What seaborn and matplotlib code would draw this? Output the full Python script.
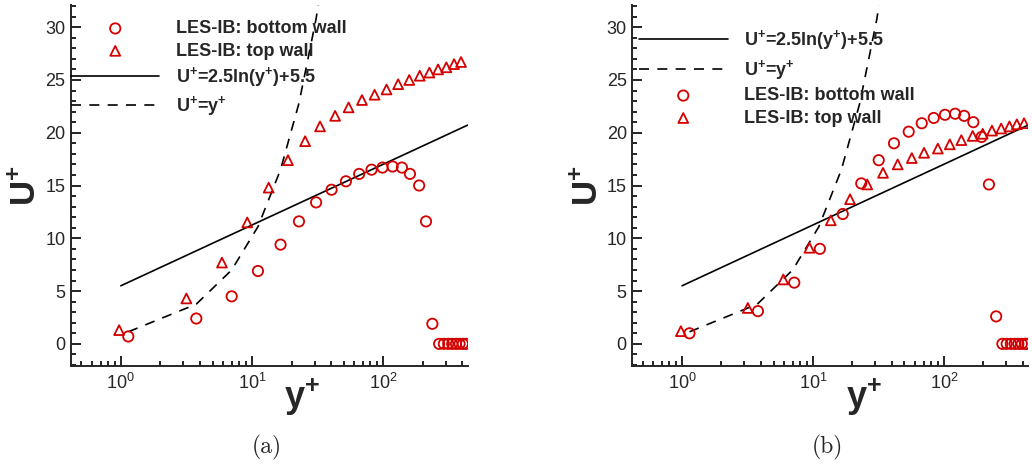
import matplotlib
matplotlib.use('Agg')
import matplotlib.pyplot as plt
import seaborn as sns
from matplotlib.ticker import MultipleLocator

# panel (a) data
yp_a_bot = [1.14, 3.76, 7.0, 11.1, 16.5, 22.8, 30.8, 40.4, 52, 65.6, 81.5, 98.8, 118, 139, 160, 188, 212, 237,
            267, 290, 313, 336, 359, 382, 405, 428]
up_a_bot = [0.7, 2.4, 4.5, 6.9, 9.4, 11.6, 13.4, 14.6, 15.4, 16.1, 16.5, 16.7, 16.8, 16.7, 16.1, 15.0, 11.6, 1.9,
            0, 0, 0, 0, 0, 0, 0, 0]
yp_a_top = [0.97, 3.16, 5.9, 9.2, 13.4, 18.8, 25.4, 33, 43, 54.5, 68.9, 86, 106, 130, 158, 190, 225, 262, 303, 347, 392]
up_a_top = [1.3, 4.3, 7.7, 11.5, 14.8, 17.4, 19.2, 20.6, 21.6, 22.4, 23.1, 23.6, 24.1, 24.6, 25.0, 25.4, 25.7,
            26.0, 26.2, 26.5, 26.7]

# panel (b) data
yp_b_bot = [1.14, 3.8, 7.2, 11.3, 16.9, 23.4, 31.8, 41.6, 53.9, 67.8, 83.7, 102, 122, 143, 168, 194, 221, 251,
            280, 302, 325, 348, 371, 394, 417, 435]
up_b_bot = [1.0, 3.1, 5.8, 9.0, 12.3, 15.2, 17.4, 19.0, 20.1, 20.9, 21.4, 21.7, 21.8, 21.6, 21.0, 19.6, 15.1, 2.6,
            0, 0, 0, 0, 0, 0, 0, 0]
yp_b_top = [0.98, 3.18, 5.94, 9.4, 13.7, 19.2, 26, 34.3, 44.4, 56.9, 70.6, 90, 111, 136, 166, 198, 233, 274, 317, 361, 410]
up_b_top = [1.2, 3.4, 6.1, 9.1, 11.7, 13.7, 15.1, 16.2, 17.0, 17.6, 18.1, 18.5, 18.9, 19.3, 19.7, 19.9, 20.2,
            20.4, 20.6, 20.8, 20.9]

# reference laws
yp_log = [1, 10, 100, 440]
up_log = [5.5, 11.26, 17.01, 20.72]
yp_lin = [1.14, 3.76, 7.0, 11.1, 16.5, 22.8, 30.8, 40.4]
up_lin = [1.14, 3.76, 7.0, 11.1, 16.5, 22.8, 30.8, 40.4]

LBL_BOT = 'LES-IB: bottom wall'
LBL_TOP = 'LES-IB: top wall'
LBL_LOG = r'U$^{\mathbf{+}}$=2.5ln(y$^{\mathbf{+}}$)+5.5'
LBL_LIN = r'U$^{\mathbf{+}}$=y$^{\mathbf{+}}$'

RED = '#d40000'

sns.set_style('ticks')
plt.rcParams['font.family'] = ['Liberation Sans', 'DejaVu Sans']
plt.rcParams['mathtext.fontset'] = 'custom'
plt.rcParams['mathtext.rm'] = 'Liberation Sans'
plt.rcParams['mathtext.bf'] = 'Liberation Sans:bold'
plt.rcParams['mathtext.it'] = 'Liberation Sans:italic'
plt.rcParams['axes.linewidth'] = 1.4


def draw_panel(ax, bot_y, bot_u, top_y, top_u, order, anchor, xlab_x):
    sns.lineplot(x=yp_log, y=up_log, ax=ax, color='k', lw=1.2, sort=False, estimator=None, label=LBL_LOG)
    sns.lineplot(x=yp_lin, y=up_lin, ax=ax, color='k', lw=1.2, sort=False, estimator=None,
                 linestyle=(0, (6, 5)), label=LBL_LIN)
    sns.scatterplot(x=bot_y, y=bot_u, ax=ax, marker='o', s=55, color=RED, facecolor='none',
                    edgecolor=RED, linewidth=1.3, label=LBL_BOT, zorder=3)
    sns.scatterplot(x=top_y, y=top_u, ax=ax, marker='^', s=50, color=RED, facecolor='none',
                    edgecolor=RED, linewidth=1.3, label=LBL_TOP, zorder=3)

    ax.set_xscale('log')
    ax.set_xlim(0.417, 440)
    ax.set_ylim(-2.1, 32.1)
    ax.yaxis.set_major_locator(MultipleLocator(5))
    ax.yaxis.set_minor_locator(MultipleLocator(1))
    ax.tick_params(which='both', direction='in', color='k', width=1.2)
    ax.tick_params(which='major', length=7)
    ax.tick_params(which='minor', length=3.5)
    ax.tick_params(axis='y', labelsize=13, pad=4)
    ax.tick_params(axis='x', labelsize=13, pad=5)
    sns.despine(ax=ax)

    ax.set_xlabel(r'$\mathbf{y^{+}}$', fontsize=26)
    ax.set_ylabel(r'$\mathbf{U^{+}}$', fontsize=25)
    ax.xaxis.set_label_coords(xlab_x, -0.03)
    ax.yaxis.set_label_coords(-0.072, 0.5)

    handles, labels = ax.get_legend_handles_labels()
    lookup = dict(zip(labels, handles))
    ax.legend([lookup[k] for k in order], order, loc='upper left', bbox_to_anchor=anchor,
              frameon=False, borderpad=0, borderaxespad=0, handlelength=4.9, handletextpad=0.9,
              labelspacing=0.3, prop={'weight': 'bold', 'size': 13})


fig = plt.figure(figsize=(10.32, 4.69), dpi=100)
ax1 = fig.add_axes([0.0688, 0.2196, 0.3843, 0.7697])
ax2 = fig.add_axes([0.6127, 0.2196, 0.3835, 0.7697])

draw_panel(ax1, yp_a_bot, up_a_bot, yp_a_top, up_a_top,
           [LBL_BOT, LBL_TOP, LBL_LOG, LBL_LIN], (0.0, 0.958), 0.583)
draw_panel(ax2, yp_b_bot, up_b_bot, yp_b_top, up_b_top,
           [LBL_LOG, LBL_LIN, LBL_BOT, LBL_TOP], (0.017, 0.935), 0.586)

fig.text(0.2584, 0.045, '(a)', ha='center', va='center', fontsize=17, family='cmr10')
fig.text(0.8020, 0.045, '(b)', ha='center', va='center', fontsize=17, family='cmr10')

fig.savefig('out.png', dpi=100)
